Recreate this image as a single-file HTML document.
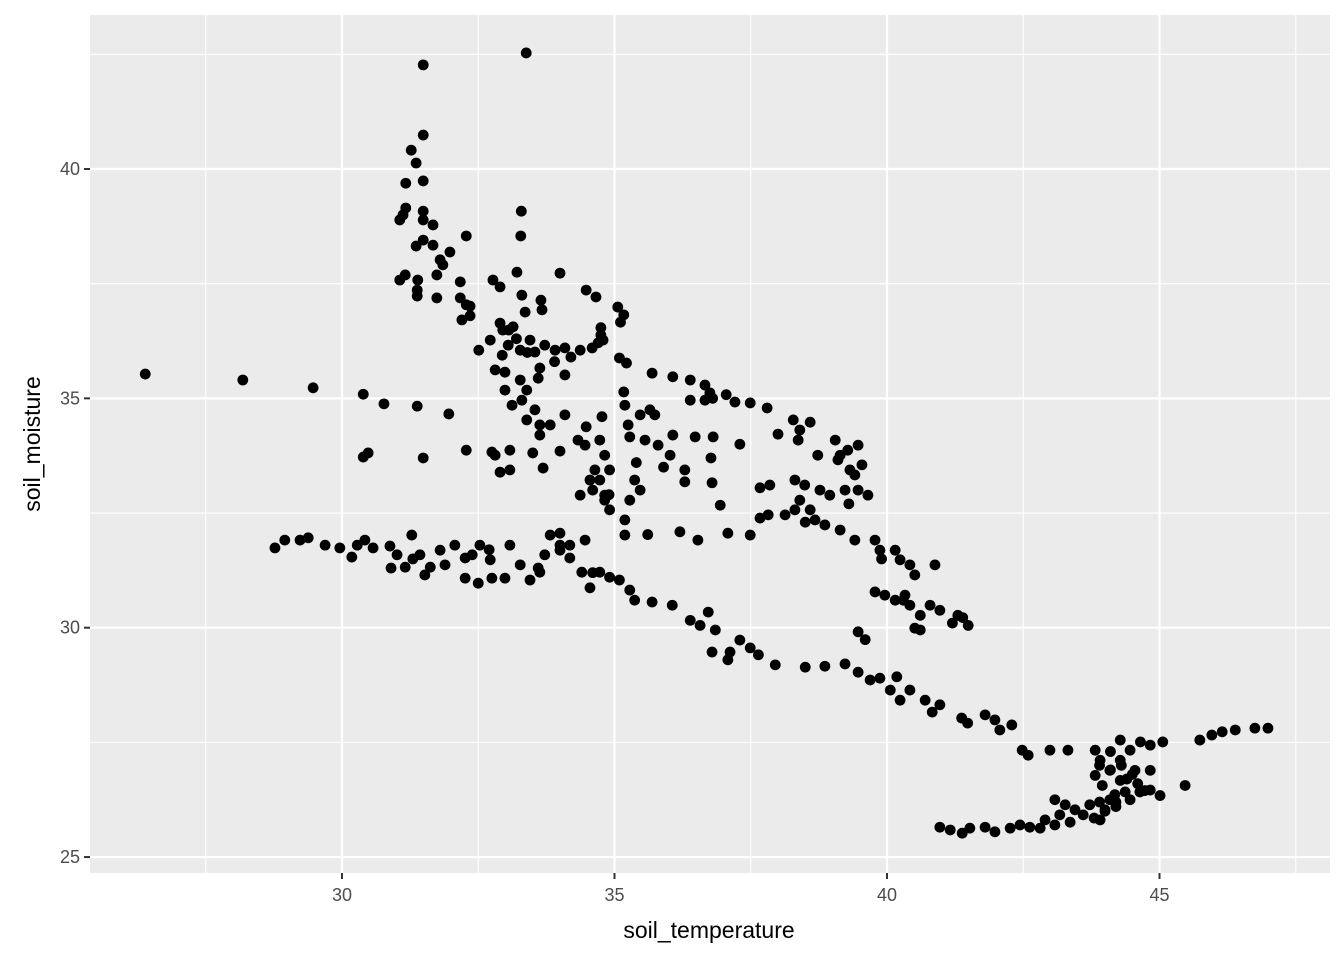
<!DOCTYPE html>
<html><head><meta charset="utf-8"><style>
body{margin:0;background:#fff;font-family:"Liberation Sans",Arial,sans-serif}
svg text{font-family:"Liberation Sans",Arial,sans-serif}
</style></head><body>
<svg id="chart" width="1344" height="960">
<rect x="0" y="0" width="1344" height="960" fill="#fff"/>
<rect x="90" y="15" width="1240" height="858" fill="#EBEBEB"/>
<g id="grid"></g><g id="pts"></g><g id="axes"></g>
<text x="709" y="938" text-anchor="middle" font-size="23" fill="#000">soil_temperature</text>
<text transform="translate(40,444) rotate(-90)" text-anchor="middle" font-size="23" fill="#000">soil_moisture</text>
</svg>
<script>
const xTicks=[30,35,40,45];
const yTicks=[25,30,35,40];
const xMinor=[27.5,32.5,37.5,42.5,47.5];
const yMinor=[27.5,32.5,37.5,42.5];
const temperature=[26.39,28.18,29.47,30.39,30.77,31.38,31.96,31.49,30.39,30.48,32.28,
33.38,31.49,31.49,31.27,31.36,31.17,31.49,31.17,31.12,31.06,31.49,31.49,31.67,33.29,33.28,32.28,31.36,31.49,31.67,31.98,31.8,31.85,31.74,31.16,31.06,31.39,31.38,31.38,31.74,32.17,32.17,32.28,32.35,32.2,32.35,
33.21,32.77,32.9,33.3,33.36,32.9,32.95,33.06,33.14,34.0,34.48,34.66,33.65,33.67,35.06,35.17,35.11,34.75,34.75,34.7,34.79,35.09,35.22,
32.51,32.72,32.94,33.05,33.27,33.45,33.54,33.72,33.91,34.09,34.37,34.59,32.81,32.99,33.27,33.63,33.6,34.09,32.99,33.39,33.12,33.3,33.54,33.39,33.63,33.63,33.82,34.09,34.33,34.46,33.08,32.81,32.9,33.08,32.75,33.69,33.5,34.0,34.48,34.77,35.17,35.19,35.47,35.25,35.65,35.74,35.28,35.56,35.8,36.07,36.48,36.81,36.02,36.29,36.29,36.79,36.77,
35.69,36.07,36.39,36.66,36.75,36.39,36.66,37.05,37.21,37.49,37.8,38.28,38.0,38.4,38.59,38.37,38.73,39.05,39.14,39.28,39.47,39.1,39.32,39.41,39.54,38.77,38.95,39.23,39.47,39.65,37.67,37.85,38.31,38.49,38.4,38.31,38.59,38.68,38.86,39.14,39.41,39.78,39.87,40.15,40.24,40.42,40.51,40.88,
39.78,39.96,40.15,40.33,40.42,40.61,40.79,40.97,41.3,41.49,41.39,40.51,40.61,39.47,39.6,
34.73,34.82,34.91,34.73,34.82,34.91,35.19,35.28,35.47,35.37,34.37,34.55,34.64,34.82,35.19,34.46,34.18,33.82,34.0,35.61,36.2,36.53,37.08,37.49,37.67,37.82,38.13,36.94,
28.77,28.95,29.23,29.38,29.69,29.96,30.18,30.28,30.42,30.57,30.88,31.01,31.16,31.28,31.43,31.52,31.62,31.8,31.89,32.07,32.26,32.39,32.53,32.26,32.5,32.72,32.75,32.99,33.08,33.27,33.45,33.63,33.72,34.0,34.0,34.18,34.4,34.55,34.73,34.91,35.09,35.28,35.37,35.69,36.06,36.39,36.57,36.72,36.85,36.79,37.12,37.3,37.08,37.49,37.64,37.95,38.5,38.86,39.23,39.47,39.69,39.87,40.06,40.18,40.24,40.42,40.7,40.83,40.97,41.37,41.48,41.8,41.98,42.07,42.29,42.48,42.59,42.99,43.32,
43.82,43.91,43.82,43.95,44.28,44.28,44.46,44.65,44.83,45.06,44.09,44.28,44.55,44.83,44.73,45.01,45.47,45.74,45.96,46.15,46.39,46.75,46.99,
40.97,41.16,41.38,41.52,41.8,41.98,42.26,42.44,42.62,42.81,42.9,43.08,43.17,43.36,43.45,43.6,43.72,43.91,44.0,44.09,44.18,44.37,44.46,44.64,44.83,43.08,43.27,43.8,44.0,44.2,44.4,43.9,44.1,
33.2,33.4,33.9,34.2,34.6,34.9,35.4,35.9,38.5,39.3,39.9,40.3,41.2,36.8,37.3,44.1,44.3,44.6,43.9,44.2,44.5,30.9,31.3,32.7,33.6,34.6];
const moisture=[35.53,35.40,35.23,35.09,34.88,34.83,34.66,33.70,33.72,33.81,33.87,
42.53,42.27,40.74,40.41,40.13,39.69,39.74,39.15,39.0,38.89,39.08,38.89,38.78,39.08,38.54,38.54,38.32,38.45,38.34,38.19,38.02,37.91,37.69,37.69,37.58,37.58,37.36,37.23,37.19,37.54,37.19,37.04,37.01,36.71,36.8,
37.75,37.58,37.43,37.25,36.88,36.64,36.49,36.49,36.56,37.73,37.36,37.21,37.14,36.93,36.99,36.82,36.66,36.54,36.38,36.21,36.27,35.88,35.77,
36.05,36.27,35.94,36.16,36.05,36.27,36.01,36.16,36.05,36.1,36.05,36.1,35.62,35.57,35.4,35.66,35.44,35.51,35.18,35.18,34.85,34.96,34.75,34.53,34.42,34.2,34.42,34.64,34.09,33.98,33.87,33.76,33.39,33.44,33.83,33.48,33.81,33.85,34.38,34.6,35.14,34.85,34.64,34.42,34.75,34.64,34.16,34.09,33.98,34.2,34.16,34.16,33.76,33.44,33.18,33.16,33.7,
35.55,35.47,35.4,35.29,35.12,34.96,34.96,35.08,34.92,34.9,34.79,34.53,34.22,34.31,34.48,34.09,33.76,34.09,33.76,33.87,33.98,33.66,33.44,33.33,33.55,33.0,32.89,33.0,33.0,32.89,33.05,33.11,33.22,33.11,32.78,32.57,32.57,32.35,32.24,32.13,31.91,31.91,31.69,31.69,31.48,31.37,31.15,31.37,
30.78,30.71,30.6,30.71,30.49,30.27,30.49,30.38,30.27,30.05,30.22,29.99,29.95,29.91,29.74,
34.09,33.76,33.44,33.22,32.89,32.57,32.35,32.78,33.0,33.22,32.89,33.22,33.44,32.78,32.02,31.91,31.8,32.02,31.69,32.03,32.09,31.91,32.06,32.02,32.39,32.46,32.46,32.67,
31.74,31.91,31.91,31.96,31.8,31.74,31.54,31.8,31.91,31.74,31.78,31.59,31.32,32.02,31.59,31.15,31.32,31.69,31.37,31.8,31.52,31.59,31.8,31.08,30.97,31.48,31.08,31.08,31.8,31.37,31.04,31.21,31.59,32.06,31.8,31.52,31.21,30.87,31.21,31.1,31.04,30.82,30.6,30.56,30.49,30.16,30.05,30.34,29.95,29.47,29.47,29.73,29.3,29.56,29.41,29.19,29.14,29.16,29.21,29.03,28.86,28.9,28.64,28.93,28.42,28.64,28.42,28.16,28.32,28.03,27.92,28.1,27.99,27.77,27.88,27.33,27.22,27.33,27.33,
27.33,27.11,26.78,26.56,27.55,27.11,27.33,27.51,27.44,27.51,26.89,26.67,26.89,26.89,26.45,26.34,26.56,27.55,27.66,27.73,27.77,27.81,27.81,
25.65,25.59,25.52,25.63,25.65,25.55,25.63,25.7,25.65,25.63,25.81,25.7,25.92,25.76,26.03,25.92,26.14,25.81,26.03,26.25,26.36,26.42,26.25,26.42,26.46,26.25,26.14,25.85,26.0,26.2,26.7,27.0,26.9,
36.3,36.0,35.8,35.9,33.0,32.9,33.6,33.5,32.3,32.7,31.5,30.6,30.1,35.0,34.0,27.3,27.0,26.6,26.2,26.1,26.8,31.3,31.5,31.7,31.3,31.2];
const NS='http://www.w3.org/2000/svg';
const X0=90,X1=1330,Y0=15,Y1=873;
function sx(v){return 342+(v-30)*54.5;}
function sy(v){return 169+(40-v)*45.87;}
function mk(tag,attrs,parent){const e=document.createElementNS(NS,tag);for(const k in attrs)e.setAttribute(k,attrs[k]);parent.appendChild(e);return e;}
const grid=document.getElementById('grid'),axes=document.getElementById('axes'),pts=document.getElementById('pts');
xMinor.forEach(v=>{const l=mk('line',{x1:sx(v),x2:sx(v),y1:Y0,y2:Y1,stroke:'#fff','stroke-width':1.1},grid);

});
yMinor.forEach(v=>{const l=mk('line',{x1:X0,x2:X1,y1:sy(v),y2:sy(v),stroke:'#fff','stroke-width':1.1},grid);

});
xTicks.forEach(v=>{const l=mk('line',{x1:sx(v),x2:sx(v),y1:Y0,y2:Y1,stroke:'#fff','stroke-width':2.2},grid);


const t=mk('line',{x1:sx(v),x2:sx(v),y1:Y1,y2:Y1+6,stroke:'#333','stroke-width':2},axes);


const tx=mk('text',{x:sx(v),y:Y1+28,'text-anchor':'middle','font-size':18,fill:'#4D4D4D'},axes);tx.textContent=v;

});
yTicks.forEach(v=>{const l=mk('line',{x1:X0,x2:X1,y1:sy(v),y2:sy(v),stroke:'#fff','stroke-width':2.2},grid);


const t=mk('line',{x1:X0-6,x2:X0,y1:sy(v),y2:sy(v),stroke:'#333','stroke-width':2},axes);


const tx=mk('text',{x:X0-10,y:sy(v)+6,'text-anchor':'end','font-size':18,fill:'#4D4D4D'},axes);tx.textContent=v;

});
const n=Math.min(temperature.length,moisture.length);
for(let i=0;i<n;i++){const c=mk('circle',{cx:sx(temperature[i]),cy:sy(moisture[i]),r:5.4,fill:'#000'},pts);

}
</script>
</body></html>
